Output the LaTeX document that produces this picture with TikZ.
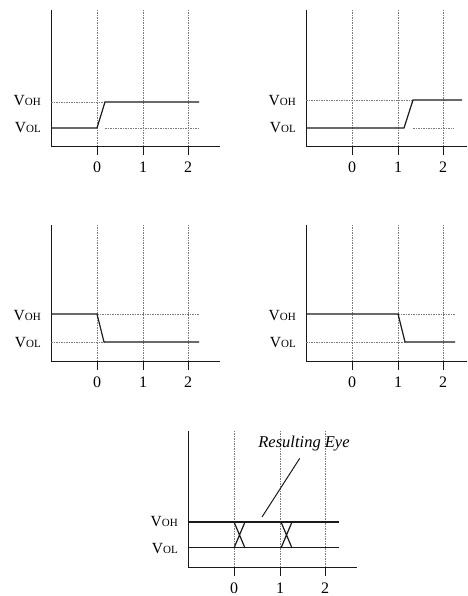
\documentclass[tikz,border=0pt]{standalone}
\usepackage{fontspec}
\setmainfont{Liberation Serif}
\usetikzlibrary{positioning}
\definecolor{Ink}{HTML}{1A1A1A}
\definecolor{GridGrey}{HTML}{7A7A7A}
\newcommand{\lev}[1]{V{\fontsize{11}{12}\selectfont #1}}
\newcommand{\timeaxes}[2]{%
  \draw[Ink,line width=1pt] (0,137) -- (0,0) -- (#2,0);
  \foreach \t/\x in {0/46,1/92,2/137}{
    \draw[GridGrey,line width=.8pt,dash pattern=on 1.5pt off 1pt] (\x,137) -- (\x,0);
    \draw[Ink,line width=1pt] (\x,0) -- (\x,-8);
    \node[num] (#1\t) at (\x,-20) {\t};}
  \node[lvl] (#1oh) at (-10,46) {\lev{OH}};
  \node[lvl] (#1ol) at (-10,19) {\lev{OL}};
}

\begin{document}
\begin{tikzpicture}[x=1pt,y=1pt,
    num/.style={font=\fontsize{16}{18}\selectfont,inner sep=0pt},
    lvl/.style={anchor=east,font=\fontsize{15.5}{17}\selectfont,inner sep=0pt},
    sig/.style={Ink,line width=1.2pt},
    ref/.style={GridGrey,line width=.8pt,dash pattern=on 1.5pt off 1pt}]
  \useasboundingbox (0,0) rectangle (467,596);
  % rising edge at 0
  \begin{scope}[shift={(51,449)}]
    \timeaxes{a}{169}
    \draw[ref] (0,45) -- (54,45);
    \draw[ref] (54,19) -- (148,19);
    \draw[sig] (0,19) -- (46,19) -- (54,45) -- (148,45);
  \end{scope}
  % rising edge after 1
  \begin{scope}[shift={(306,449)}]
    \timeaxes{b}{161}
    \draw[ref] (0,47) -- (107,47);
    \draw[ref] (107,19) -- (148,19);
    \draw[sig] (0,19) -- (98,19) -- (107,47) -- (156,47);
  \end{scope}
  % falling edge at 0
  \begin{scope}[shift={(51,234)}]
    \timeaxes{c}{169}
    \draw[ref] (46,48) -- (148,48);
    \draw[ref] (0,20) -- (53,20);
    \draw[sig] (0,48) -- (46,48) -- (53,20) -- (148,20);
  \end{scope}
  % falling edge at 1
  \begin{scope}[shift={(306,234)}]
    \timeaxes{d}{161}
    \draw[ref] (92,48) -- (149,48);
    \draw[ref] (0,20) -- (99,20);
    \draw[sig] (0,48) -- (92,48) -- (99,20) -- (149,20);
  \end{scope}
  % overlay of all four
  \begin{scope}[shift={(188,28)}]
    \timeaxes{e}{169}
    \draw[Ink,line width=1.8pt] (0,46) -- (151,46);
    \draw[Ink,line width=1pt] (0,20) -- (151,20);
    \draw[sig] (46,46) -- (57,20) (46,20) -- (57,46);
    \draw[sig] (93,46) -- (104,20) (93,20) -- (104,46);
    \node[font=\fontsize{16.5}{18}\selectfont\itshape,inner sep=0pt] (eye) at (116,124) {Resulting Eye};
    \coordinate (eyept) at (74,51);
    \draw[Ink,line width=1pt,shorten <=8pt] (eye.south) -- (eyept);
  \end{scope}
\end{tikzpicture}
\end{document}
